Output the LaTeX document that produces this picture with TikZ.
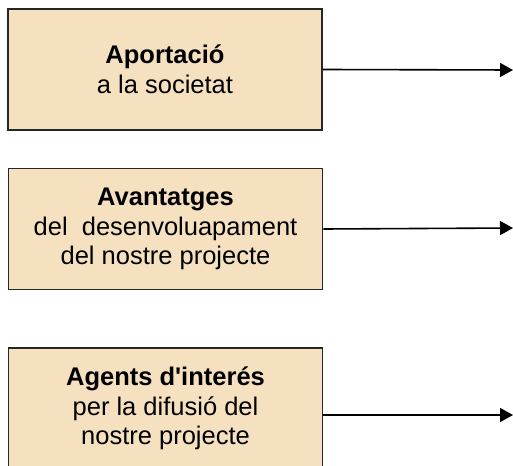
\documentclass[tikz,border=0pt]{standalone}
\usepackage{fontspec}
\setmainfont{Liberation Sans}[Ligatures=TeXOff]
\usetikzlibrary{arrows.meta}
\definecolor{caixa}{RGB}{245,225,192}
\begin{document}
\begin{tikzpicture}[x=1pt,y=1pt,
    bloc/.style={draw=black!85,line width=1.6pt,fill=caixa,minimum width=314pt,
      minimum height=121pt,inner sep=0pt,align=center,
      font=\fontsize{25.5}{29.5}\selectfont},
    fletxa/.style={line width=1.6pt,-{Triangle[length=13pt,width=14pt]}}]
        \useasboundingbox (0,0) rectangle (513,-465);
        \node[bloc] (aportacio) at (165,-69.5) {\textbf{Aportació}\\a la societat};
        \node[bloc] (avantatges) at (165.5,-229) {\textbf{Avantatges}\\del\ \ desenvoluapament\\del nostre projecte};
        \node[bloc] (agents) at (165.5,-408.5) {\textbf{Agents d'interés}\\per la difusió del\\nostre projecte};
        \coordinate (f1) at (513,-70);
        \coordinate (f2) at (513,-228);
        \coordinate (f3) at (513,-415);
        \draw[fletxa] (aportacio.east) -- (f1);
        \draw[fletxa] (avantatges.east) -- (f2);
        \draw[fletxa] (agents.east |- f3) -- (f3);
      \end{tikzpicture}
\end{document}
